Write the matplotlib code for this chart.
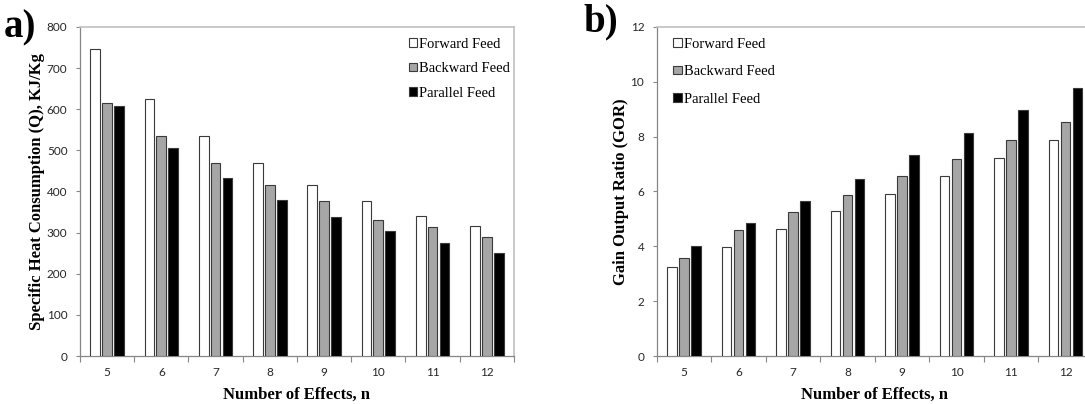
import matplotlib.pyplot as plt
import numpy as np
from matplotlib.patches import Patch

effects = ['5', '6', '7', '8', '9', '10', '11', '12']
series = ['Forward Feed', 'Backward Feed', 'Parallel Feed']

# specific heat consumption, kJ/kg
q_forward = [747, 624, 536, 469, 417, 376, 341, 316]
q_backward = [616, 536, 469, 417, 376, 331, 313, 290]
q_parallel = [609, 505, 433, 379, 337, 304, 275, 251]

# gain output ratio
gor_forward = [3.26, 3.96, 4.62, 5.28, 5.90, 6.56, 7.22, 7.87]
gor_backward = [3.56, 4.59, 5.25, 5.89, 6.56, 7.17, 7.87, 8.54]
gor_parallel = [4.00, 4.85, 5.66, 6.47, 7.34, 8.15, 8.98, 9.79]

fills = ['white', '#a6a6a6', 'black']
edge = '#3a3a3a'
tickfont = 'Lato'
serif = 'Liberation Serif'

fig = plt.figure(figsize=(10.85, 4.04), dpi=100)
ax1 = fig.add_axes([0.0737, 0.1188, 0.4000, 0.8144])
ax2 = fig.add_axes([0.6053, 0.1188, 0.4018, 0.8144])

x = np.arange(len(effects))
w = 0.18
offs = [-0.22, 0, 0.22]


def draw(ax, data, ymax, ystep, ylabel):
    for vals, off, fc in zip(data, offs, fills):
        ax.bar(x + off, vals, w, color=fc, edgecolor=edge, linewidth=0.8, zorder=3)
    ax.set_xlim(-0.5, len(effects) - 0.5)
    ax.set_ylim(0, ymax)
    ax.set_yticks(np.arange(0, ymax + ystep / 2, ystep))
    ax.set_xticks(x)
    ax.set_xticklabels(effects)
    ax.set_xticks(np.arange(-0.5, len(effects)), minor=True)
    ax.tick_params(axis='x', which='major', length=0, pad=8)
    ax.tick_params(axis='x', which='minor', length=4, color='#888888', width=0.8)
    ax.tick_params(axis='y', length=3, color='#888888', width=0.8, pad=6)
    for lab in ax.get_xticklabels() + ax.get_yticklabels():
        lab.set_fontfamily(tickfont)
        lab.set_fontsize(8.5)
        lab.set_color('#262626')
    for s in ['left', 'bottom']:
        ax.spines[s].set_color('#868686')
        ax.spines[s].set_linewidth(0.9)
    for s in ['top', 'right']:
        ax.spines[s].set_color('#c0c0c0')
        ax.spines[s].set_linewidth(1.2)
    ax.set_xlabel('Number of Effects, n', fontfamily=serif, fontweight='bold',
                  fontsize=12, labelpad=6)
    ax.set_ylabel(ylabel, fontfamily=serif, fontweight='bold', fontsize=12,
                  labelpad=1)


draw(ax1, [q_forward, q_backward, q_parallel], 800, 100,
     'Specific Heat Consumption (Q), KJ/Kg')
draw(ax2, [gor_forward, gor_backward, gor_parallel], 12, 2,
     'Gain Output Ratio (GOR)')

handles = [Patch(facecolor=fc, edgecolor=edge, linewidth=0.8) for fc in fills]
for ax, pos, sp in [(ax1, (0.370, 0.925), 0.8), (ax2, (0.614, 0.925), 1.0)]:
    ax.legend(handles, series, loc='upper left', bbox_to_anchor=pos,
              bbox_transform=fig.transFigure, frameon=False, borderpad=0,
              handlelength=0.55, handleheight=0.55, handletextpad=0.15,
              labelspacing=sp, prop={'family': serif, 'size': 10.5})

fig.text(0.003, 0.932, 'a)', fontfamily=serif, fontweight='bold', fontsize=28,
         va='center', ha='left')
fig.text(0.538, 0.945, 'b)', fontfamily=serif, fontweight='bold', fontsize=28,
         va='center', ha='left')

fig.savefig('out.png', dpi=100)
